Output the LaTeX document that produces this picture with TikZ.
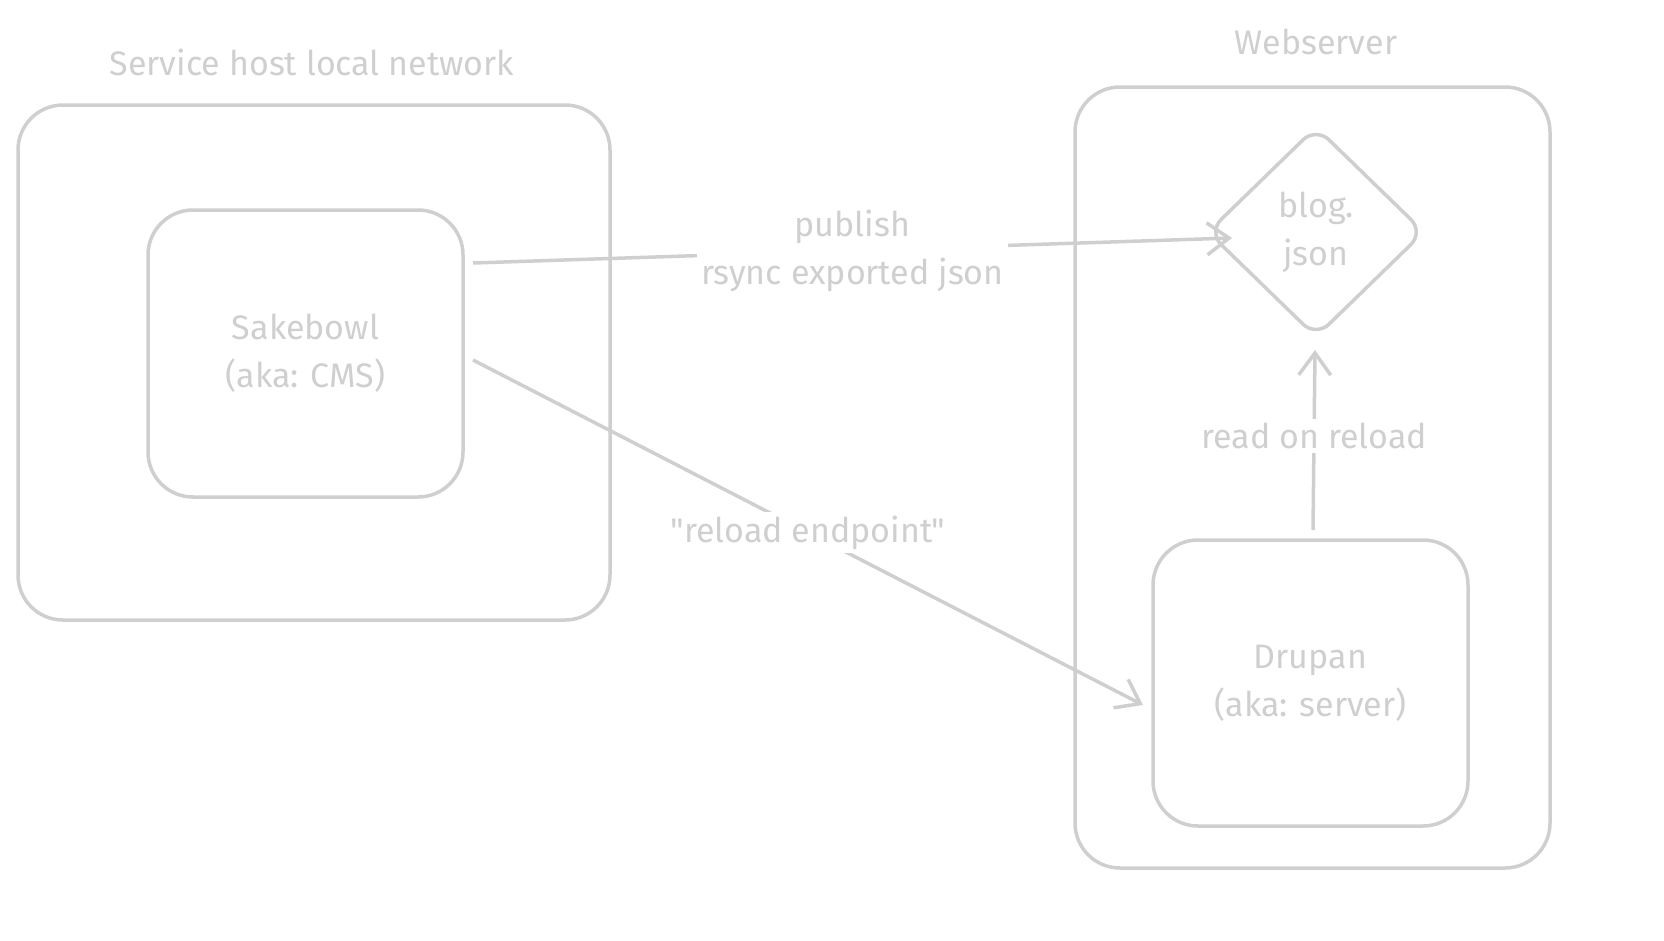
\documentclass[tikz,border=0pt]{standalone}
\usepackage{fontspec}
\setmainfont{Fira Sans}[Ligatures=TeXOff]
\usetikzlibrary{shapes.geometric,arrows.meta}
\definecolor{ink}{HTML}{CFCFCF}
\begin{document}
\begin{tikzpicture}[x=1pt,y=-1pt,
  box/.style={draw=ink,line width=3.5pt,rounded corners=45pt},
  lbl/.style={text=ink,font=\fontsize{34}{48}\selectfont,align=center},
  conn/.style={draw=ink,line width=3.5pt,-{Straight Barb[length=22pt,width=32pt,line width=3.5pt]}},
  cut/.style={lbl,fill=white,inner sep=4pt}]
\useasboundingbox (0,0) rectangle (1664,940);
\node[lbl] (t1) at (312,62) {Service host local network};
\draw[box] (18,105) rectangle (610,620);
\node[box,minimum width=315pt,minimum height=287pt,lbl] (cms) at (305.5,353.5) {Sakebowl\\(aka: CMS)};
\node[lbl] (t2) at (1316,42) {Webserver};
\draw[box] (1075,87) rectangle (1550,868);
\node[draw=ink,line width=3.5pt,diamond,rounded corners=18pt,minimum width=217pt,minimum height=211pt,lbl] (blog) at (1316,232) {blog.\\json};
\node[box,minimum width=315pt,minimum height=286pt,lbl] (srv) at (1310.5,683) {Drupan\\(aka: server)};
\coordinate (a1) at (473,263);
\coordinate (b1) at (1232,238);
\draw[conn] (a1) -- (b1) node[cut,pos=0.5] (l1) {publish\\rsync exported json};
\coordinate (a2) at (473,360);
\coordinate (b2) at (1143,705);
\draw[conn] (a2) -- (b2) node[cut,pos=0.5] (l2) {"reload endpoint"};
\coordinate (a3) at (1313,530);
\coordinate (b3) at (1315,350);
\draw[conn] (a3) -- (b3) node[cut,pos=0.52] (l3) {read on reload};
\end{tikzpicture}
\end{document}
